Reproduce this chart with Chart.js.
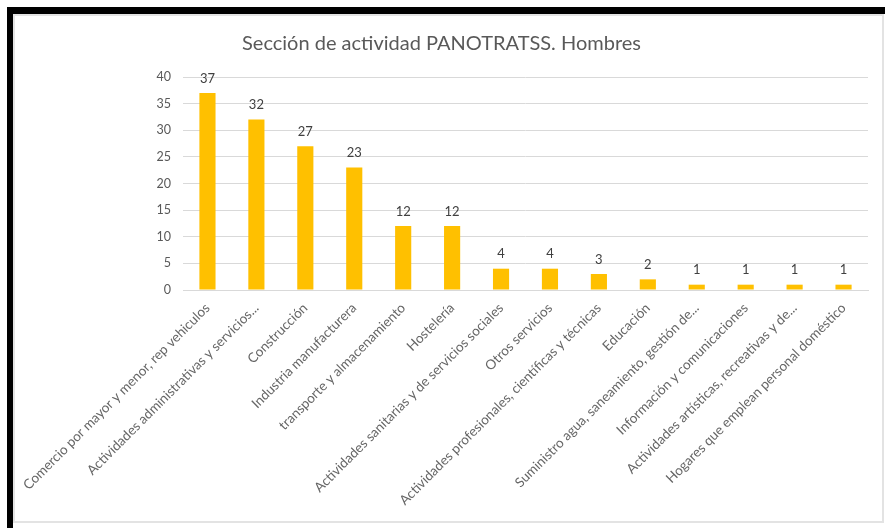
<!DOCTYPE html>
<html>
<head>
<meta charset="utf-8">
<script src="https://cdn.jsdelivr.net/npm/chart.js@4"></script>
<style>
  html, body { margin: 0; padding: 0; background: #ffffff; }
  body { width: 885px; height: 528px; overflow: hidden; position: relative; }
  .marco {
    position: absolute; left: 7px; top: 7px; width: 878px; height: 521px;
    border-top: 7px solid #000; border-left: 6px solid #000; box-sizing: border-box;
  }
  .panel {
    position: absolute; left: 13px; top: 14px; width: 871px; height: 509px;
    border: 2px solid #e3e3e3; box-sizing: border-box; background: #fff;
  }
  #grafico { position: absolute; left: 0; top: 0; }
</style>
</head>
<body>
<div class="marco"></div>
<div class="panel">
  <canvas id="grafico" width="867" height="505"></canvas>
</div>
<script>
const categorias = [
  'Comercio por mayor y menor, rep vehiculos',
  'Actividades administrativas y servicios...',
  'Construcción',
  'Industria manufacturera',
  'transporte y almacenamiento',
  'Hostelería',
  'Actividades sanitarias y de servicios sociales',
  'Otros servicios',
  'Actividades profesionales, científicas y técnicas',
  'Educación',
  'Suministro agua, saneamiento, gestión de...',
  'Información y comunicaciones',
  'Actividades artísticas, recreativas y de...',
  'Hogares que emplean personal doméstico'
];
const hombres = [37, 32, 27, 23, 12, 12, 4, 4, 3, 2, 1, 1, 1, 1];
const ticksY = [0, 5, 10, 15, 20, 25, 30, 35, 40];

const fuente = 'Lato, "Open Sans", sans-serif';

// etiquetas de valor encima de cada barra
const etiquetasValor = {
  id: 'etiquetasValor',
  afterDatasetsDraw(chart) {
    const ctx = chart.ctx;
    const meta = chart.getDatasetMeta(0);
    ctx.save();
    ctx.font = '13px ' + fuente;
    ctx.fillStyle = '#404040';
    ctx.textAlign = 'center';
    ctx.textBaseline = 'bottom';
    meta.data.forEach((barra, i) => {
      ctx.fillText(hombres[i], barra.x, barra.y - 8);
    });
    ctx.restore();
  }
};

new Chart(document.getElementById('grafico').getContext('2d'), {
  type: 'bar',
  data: {
    labels: categorias,
    datasets: [{
      label: 'Hombres',
      data: hombres,
      backgroundColor: '#ffc000',
      borderWidth: 0,
      barPercentage: 0.66,
      categoryPercentage: 0.5
    }]
  },
  options: {
    responsive: false,
    animation: false,
    layout: { padding: { left: 0, right: 14, top: 0, bottom: 0 } },
    plugins: {
      legend: { display: false },
      tooltip: { enabled: false },
      title: {
        display: true,
        text: 'Sección de actividad PANOTRATSS. Hombres',
        color: '#595959',
        font: { family: fuente, size: 20, weight: 'normal' },
        padding: { top: 16, bottom: 21 }
      }
    },
    scales: {
      x: {
        grid: { display: false },
        border: { color: '#d9d9d9' },
        ticks: {
          color: '#666666',
          font: { family: fuente, size: 13.5 },
          autoSkip: false,
          minRotation: 45,
          maxRotation: 45,
          padding: 2
        },
        afterFit(scale) { scale.height = 231; }
      },
      y: {
        min: 0,
        max: 40,
        afterBuildTicks(scale) { scale.ticks = ticksY.map(v => ({ value: v })); },
        grid: { color: '#d9d9d9', drawTicks: false },
        border: { display: false },
        ticks: {
          color: '#595959',
          font: { family: fuente, size: 12.5 },
          padding: 12
        },
        afterFit(scale) { scale.width = 168; }
      }
    }
  },
  plugins: [etiquetasValor]
});
</script>
</body>
</html>
